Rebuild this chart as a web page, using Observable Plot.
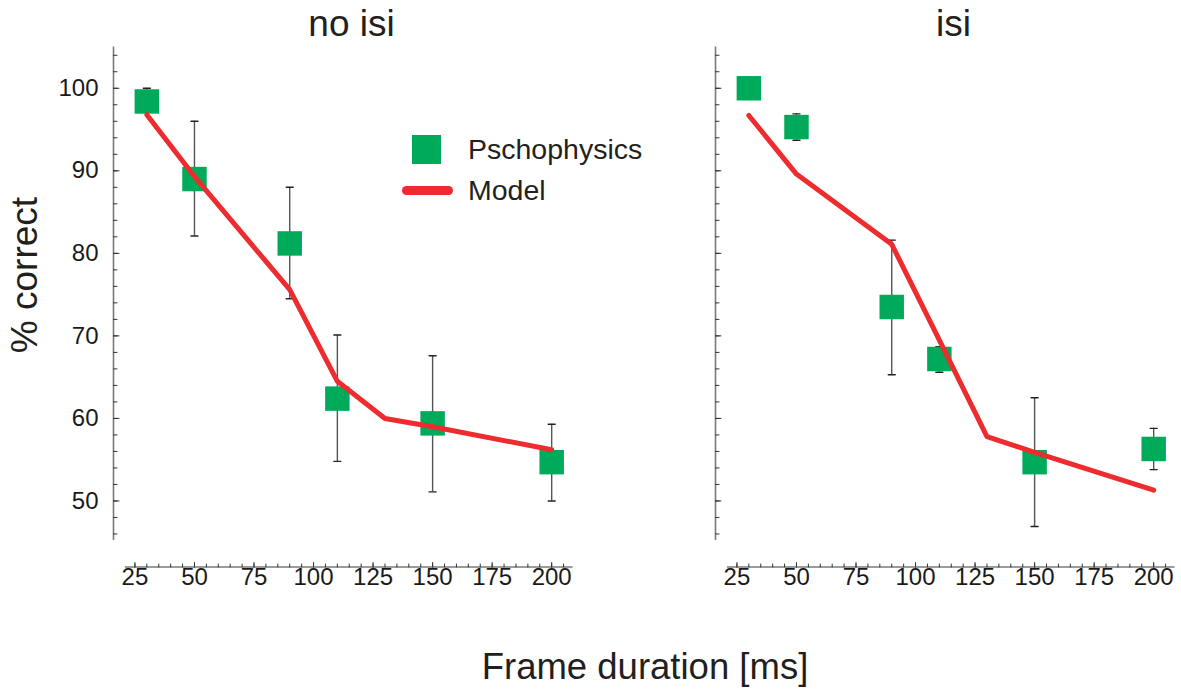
<!DOCTYPE html>
<html>
<head>
<meta charset="utf-8">
<script src="https://cdn.jsdelivr.net/npm/d3@7"></script>
<script src="https://cdn.jsdelivr.net/npm/@observablehq/plot@0.6"></script>
<style>
  body { margin: 0; background: #fff; font-family: "Liberation Sans", Arial, Helvetica, sans-serif; color: #1a1a1a; }
  #wrap { position: relative; width: 1181px; height: 689px; overflow: hidden; }
  #chart svg { display: block; }
  .lg-text { position: absolute; font-size: 28.5px; line-height: 28px; white-space: nowrap; color: #231f20; }
  #xlabel { position: absolute; left: 113px; width: 1064px; top: 649px; text-align: center;
            font-size: 36.5px; line-height: 36px; color: #231f20; }
  #ylabel { position: absolute; left: -75.5px; top: 257px; width: 200px; height: 36px; text-align: center;
            font-size: 37px; line-height: 36px; color: #231f20; transform: rotate(-90deg); white-space: nowrap; }
</style>
</head>
<body>
<div id="wrap">
  <div id="chart"></div>
  <div id="ylabel">% correct</div>
  <div id="xlabel">Frame duration [ms]</div>
  <!-- legend -->
  <div style="position:absolute;left:412px;top:135px;width:29px;height:29px;background:#00aa5b"></div>
  <div style="position:absolute;left:402px;top:186px;width:51px;height:9px;border-radius:4.5px;background:#ee2b2e"></div>
  <div class="lg-text" style="left:468px;top:134.6px">Pschophysics</div>
  <div class="lg-text" style="left:468px;top:176.3px">Model</div>
</div>
<script>
// Panels: without and with inter-stimulus interval
const panels = ["no isi", "isi"];

// Psychophysics: mean % correct with error bar ends, per frame duration (ms)
const durations = [30, 50, 90, 110, 150, 200];
const psychoNoIsi   = [98.4, 89.0, 81.2, 62.4, 59.4, 54.7];
const errLowNoIsi   = [97.5, 82.1, 74.5, 54.8, 51.1, 50.0];
const errHighNoIsi  = [100.0, 96.0, 88.0, 70.1, 67.6, 59.3];
const psychoIsi     = [100.0, 95.3, 73.5, 67.2, 54.7, 56.3];
const errLowIsi     = [99.2, 93.7, 65.3, 65.6, 46.9, 53.8];
const errHighIsi    = [100.8, 96.9, 81.6, 68.7, 62.5, 58.8];

// Model predictions
const modelDurations = [30, 50, 90, 110, 130, 150, 200];
const modelNoIsi = [96.8, 89.3, 75.6, 64.5, 60.0, 59.0, 56.2];
const modelIsi   = [96.7, 89.6, 81.1, 69.5, 57.8, 55.9, 51.3];

// Axis tick values
const xTickLabels = [25, 50, 75, 100, 125, 150, 175, 200];
const xMinorTicks = d3.range(25, 206, 5);
const yTickLabels = [50, 60, 70, 80, 90, 100];
const yMinorTicks = d3.range(46, 105, 2);

const xDomain = [16, 210];
const yDomain = [42, 105];

const green = "#00aa5b";
const red = "#ee2b2e";

const psycho = [
  ...durations.map((d, i) => ({panel: panels[0], duration: d, pct: psychoNoIsi[i], lo: errLowNoIsi[i], hi: errHighNoIsi[i]})),
  ...durations.map((d, i) => ({panel: panels[1], duration: d, pct: psychoIsi[i], lo: errLowIsi[i], hi: errHighIsi[i]}))
];
const model = [
  ...modelDurations.map((d, i) => ({panel: panels[0], duration: d, pct: modelNoIsi[i]})),
  ...modelDurations.map((d, i) => ({panel: panels[1], duration: d, pct: modelIsi[i]}))
];

// plain line segment shape for vectors (ticks and error-bar caps)
const segment = { draw(context, l) { context.moveTo(0, 0); context.lineTo(0, -l); } };

const chart = Plot.plot({
  width: 1181,
  height: 620,
  marginLeft: 113,
  marginRight: 4,
  marginTop: 46.5,
  marginBottom: 53.5,
  style: { fontFamily: "Liberation Sans, Arial, Helvetica, sans-serif", fontSize: "24px", color: "#1a1a1a", background: "white", overflow: "visible" },
  fx: { domain: panels, paddingInner: 140 / 602, paddingOuter: 0, label: null, round: false },
  x: { domain: xDomain },
  y: { domain: yDomain },
  marks: [
    // panel titles
    Plot.axisFx({ anchor: "top", label: null, tickSize: 0, tickPadding: 11, fontSize: 37, dx: 7, fill: "#231f20" }),
    // y axis: line, inward ticks, labels on the first panel
    Plot.ruleX([xDomain[0]], { y1: 45.2, y2: 105, stroke: "#7a7a7a", strokeWidth: 1.6 }),
    Plot.vector(yMinorTicks, { x: () => xDomain[0], y: d => d, length: 3.5, rotate: 90, anchor: "start", shape: segment, stroke: "#333", strokeWidth: 1 }),
    Plot.vector(yTickLabels, { x: () => xDomain[0], y: d => d, length: 5.5, rotate: 90, anchor: "start", shape: segment, stroke: "#333", strokeWidth: 1 }),
    Plot.axisY({ anchor: "left", ticks: yTickLabels, tickSize: 0, tickPadding: 15, label: null, fontSize: 24, fill: "#1a1a1a" }),
    // x axis: detached baseline with upward ticks
    Plot.ruleY([yDomain[0]], { x1: 21, x2: 209, stroke: "#7a7a7a", strokeWidth: 1.6 }),
    Plot.vector(xMinorTicks, { x: d => d, y: () => yDomain[0], length: 3, rotate: 0, anchor: "start", shape: segment, stroke: "#333", strokeWidth: 1 }),
    Plot.vector(xTickLabels, { x: d => d, y: () => yDomain[0], length: 4.5, rotate: 0, anchor: "start", shape: segment, stroke: "#333", strokeWidth: 1 }),
    Plot.axisX({ anchor: "bottom", ticks: xTickLabels, tickSize: 0, tickPadding: 1, label: null, fontSize: 24, fill: "#1a1a1a" }),
    // error bars
    Plot.ruleX(psycho, { fx: "panel", x: "duration", y1: "lo", y2: "hi", stroke: "#555", strokeWidth: 1.4 }),
    Plot.vector(psycho, { fx: "panel", x: "duration", y: "lo", length: 7, rotate: 90, anchor: "middle", shape: segment, stroke: "#222", strokeWidth: 1.4 }),
    Plot.vector(psycho, { fx: "panel", x: "duration", y: "hi", length: 7, rotate: 90, anchor: "middle", shape: segment, stroke: "#222", strokeWidth: 1.4 }),
    // psychophysics squares
    Plot.dot(psycho, { fx: "panel", x: "duration", y: "pct", symbol: "square", r: 13.8, fill: green, stroke: "none" }),
    // model line
    Plot.line(model, { fx: "panel", x: "duration", y: "pct", stroke: red, strokeWidth: 5, strokeLinejoin: "round", strokeLinecap: "round" })
  ]
});

document.getElementById("chart").appendChild(chart);
</script>
</body>
</html>
